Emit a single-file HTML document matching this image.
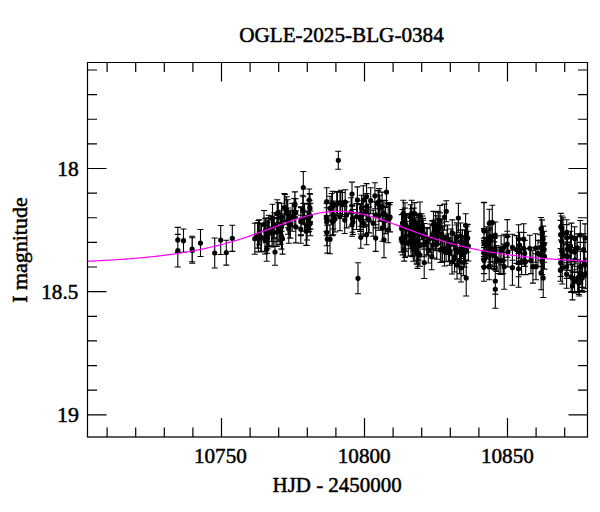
<!DOCTYPE html>
<html><head><meta charset="utf-8"><title>OGLE-2025-BLG-0384</title>
<style>html,body{margin:0;padding:0;background:#fff;overflow:hidden}svg{display:block}text{font-family:"Liberation Serif","DejaVu Serif",serif;fill:#000;stroke:#000;stroke-width:0.5px}</style></head><body>
<svg width="600" height="512" viewBox="0 0 600 512">
<rect width="600" height="512" fill="#fff"/>
<defs><clipPath id="c"><rect x="87.5" y="62.5" width="500.0" height="374.5"/></clipPath></defs>
<g clip-path="url(#c)">
<path d="M177.8 227.4V252.4M174.8 227.4h6.0M174.8 252.4h6.0M177.8 234.4V267.0M174.8 234.4h6.0M174.8 267.0h6.0M183.5 229.0V252.4M180.5 229.0h6.0M180.5 252.4h6.0M192.1 236.3V261.7M189.1 236.3h6.0M189.1 261.7h6.0M192.3 237.7V263.3M189.3 237.7h6.0M189.3 263.3h6.0M200.5 229.5V256.5M197.5 229.5h6.0M197.5 256.5h6.0M214.7 238.0V268.0M211.7 238.0h6.0M211.7 268.0h6.0M220.7 225.5V254.5M217.7 225.5h6.0M217.7 254.5h6.0M226.3 240.3V265.1M223.3 240.3h6.0M223.3 265.1h6.0M232.3 225.2V251.4M229.3 225.2h6.0M229.3 251.4h6.0M254.8 223.2V254.2M251.8 223.2h6.0M251.8 254.2h6.0M260.8 224.0V252.0M257.8 224.0h6.0M257.8 252.0h6.0M261.4 223.4V251.4M258.4 223.4h6.0M258.4 251.4h6.0M264.0 210.5V238.5M261.0 210.5h6.0M261.0 238.5h6.0M265.0 226.0V254.0M262.0 226.0h6.0M262.0 254.0h6.0M266.7 237.2V261.2M263.7 237.2h6.0M263.7 261.2h6.0M267.6 220.8V248.8M264.6 220.8h6.0M264.6 248.8h6.0M269.2 217.7V245.7M266.2 217.7h6.0M266.2 245.7h6.0M272.0 219.0V247.0M269.0 219.0h6.0M269.0 247.0h6.0M272.5 204.3V232.3M269.5 204.3h6.0M269.5 232.3h6.0M273.3 218.5V246.5M270.3 218.5h6.0M270.3 246.5h6.0M275.0 238.7V265.3M272.0 238.7h6.0M272.0 265.3h6.0M277.2 199.7V227.7M274.2 199.7h6.0M274.2 227.7h6.0M278.3 202.5V222.5M275.3 202.5h6.0M275.3 222.5h6.0M278.1 213.7V241.7M275.1 213.7h6.0M275.1 241.7h6.0M280.0 216.8V244.8M277.0 216.8h6.0M277.0 244.8h6.0M281.6 203.2V231.2M278.6 203.2h6.0M278.6 231.2h6.0M282.5 223.1V254.1M279.5 223.1h6.0M279.5 254.1h6.0M284.3 193.5V221.5M281.3 193.5h6.0M281.3 221.5h6.0M285.0 194.5V220.5M282.0 194.5h6.0M282.0 220.5h6.0M286.7 196.8V224.8M283.7 196.8h6.0M283.7 224.8h6.0M287.8 199.7V227.7M284.8 199.7h6.0M284.8 227.7h6.0M290.0 212.0V238.0M287.0 212.0h6.0M287.0 238.0h6.0M290.4 210.2V238.2M287.4 210.2h6.0M287.4 238.2h6.0M292.2 203.2V231.2M289.2 203.2h6.0M289.2 231.2h6.0M294.8 191.9V217.9M291.8 191.9h6.0M291.8 217.9h6.0M295.0 191.7V216.7M292.0 191.7h6.0M292.0 216.7h6.0M294.2 198.5V226.5M291.2 198.5h6.0M291.2 226.5h6.0M295.7 198.8V226.8M292.7 198.8h6.0M292.7 226.8h6.0M300.8 215.2V243.2M297.8 215.2h6.0M297.8 243.2h6.0M300.8 207.7V235.7M297.8 207.7h6.0M297.8 235.7h6.0M301.0 206.7V234.7M298.0 206.7h6.0M298.0 234.7h6.0M302.7 195.3V223.3M299.7 195.3h6.0M299.7 223.3h6.0M303.3 171.5V203.5M300.3 171.5h6.0M300.3 203.5h6.0M303.3 196.8V224.8M300.3 196.8h6.0M300.3 224.8h6.0M304.5 203.2V231.2M301.5 203.2h6.0M301.5 231.2h6.0M306.2 217.2V245.2M303.2 217.2h6.0M303.2 245.2h6.0M306.7 216.1V245.5M303.7 216.1h6.0M303.7 245.5h6.0M307.1 212.0V240.0M304.1 212.0h6.0M304.1 240.0h6.0M308.3 204.3V232.3M305.3 204.3h6.0M305.3 232.3h6.0M309.2 189.0V211.0M306.2 189.0h6.0M306.2 211.0h6.0M309.8 193.5V221.5M306.8 193.5h6.0M306.8 221.5h6.0M310.0 194.3V222.3M307.0 194.3h6.0M307.0 222.3h6.0M309.2 203.5V231.5M306.2 203.5h6.0M306.2 231.5h6.0M326.7 187.7V215.7M323.7 187.7h6.0M323.7 215.7h6.0M326.4 203.2V231.2M323.4 203.2h6.0M323.4 231.2h6.0M326.7 207.7V235.7M323.7 207.7h6.0M323.7 235.7h6.0M326.7 219.2V245.8M323.7 219.2h6.0M323.7 245.8h6.0M327.3 225.1V253.1M324.3 225.1h6.0M324.3 253.1h6.0M330.0 224.7V253.7M327.0 224.7h6.0M327.0 253.7h6.0M330.0 196.3V220.3M327.0 196.3h6.0M327.0 220.3h6.0M331.7 193.5V221.5M328.7 193.5h6.0M328.7 221.5h6.0M332.5 207.7V235.7M329.5 207.7h6.0M329.5 235.7h6.0M333.3 201.0V229.0M330.3 201.0h6.0M330.3 229.0h6.0M333.3 206.8V234.8M330.3 206.8h6.0M330.3 234.8h6.0M332.5 191.3V215.3M329.5 191.3h6.0M329.5 215.3h6.0M336.7 192.2V216.2M333.7 192.2h6.0M333.7 216.2h6.0M338.3 151.3V169.3M335.3 151.3h6.0M335.3 169.3h6.0M340.0 191.5V213.5M337.0 191.5h6.0M337.0 213.5h6.0M340.0 202.7V230.7M337.0 202.7h6.0M337.0 230.7h6.0M337.5 191.5V215.5M334.5 191.5h6.0M334.5 215.5h6.0M342.5 192.5V216.5M339.5 192.5h6.0M339.5 216.5h6.0M335.0 206.0V232.0M332.0 206.0h6.0M332.0 232.0h6.0M352.0 182.1V206.1M349.0 182.1h6.0M349.0 206.1h6.0M352.0 213.3V236.3M349.0 213.3h6.0M349.0 236.3h6.0M346.6 201.9V227.9M343.6 201.9h6.0M343.6 227.9h6.0M340.8 190.2V216.2M337.8 190.2h6.0M337.8 216.2h6.0M357.4 186.9V212.9M354.4 186.9h6.0M354.4 212.9h6.0M361.6 195.2V221.2M358.6 195.2h6.0M358.6 221.2h6.0M360.8 203.5V229.5M357.8 203.5h6.0M357.8 229.5h6.0M360.8 226.3V248.3M357.8 226.3h6.0M357.8 248.3h6.0M366.6 183.6V209.6M363.6 183.6h6.0M363.6 209.6h6.0M366.6 193.6V219.6M363.6 193.6h6.0M363.6 219.6h6.0M366.6 224.8V244.8M363.6 224.8h6.0M363.6 244.8h6.0M370.7 187.7V213.7M367.7 187.7h6.0M367.7 213.7h6.0M369.1 206.9V232.9M366.1 206.9h6.0M366.1 232.9h6.0M374.9 182.8V208.8M371.9 182.8h6.0M371.9 208.8h6.0M375.7 201.9V227.9M372.7 201.9h6.0M372.7 227.9h6.0M375.7 224.8V251.4M372.7 224.8h6.0M372.7 251.4h6.0M379.0 188.6V214.6M376.0 188.6h6.0M376.0 214.6h6.0M379.9 195.2V221.2M376.9 195.2h6.0M376.9 221.2h6.0M383.2 200.2V226.2M380.2 200.2h6.0M380.2 226.2h6.0M386.5 177.5V206.7M383.5 177.5h6.0M383.5 206.7h6.0M388.2 203.5V229.5M385.2 203.5h6.0M385.2 229.5h6.0M382.4 215.2V241.2M379.4 215.2h6.0M379.4 241.2h6.0M388.2 216.8V242.8M385.2 216.8h6.0M385.2 242.8h6.0M384.0 221.8V257.8M381.0 221.8h6.0M381.0 257.8h6.0M373.2 210.2V236.2M370.2 210.2h6.0M370.2 236.2h6.0M363.3 210.2V236.2M360.3 210.2h6.0M360.3 236.2h6.0M356.6 203.5V229.5M353.6 203.5h6.0M353.6 229.5h6.0M358.0 262.8V293.8M355.0 262.8h6.0M355.0 293.8h6.0M446.3 200.8V221.8M443.3 200.8h6.0M443.3 221.8h6.0M444.5 204.1V230.1M441.5 204.1h6.0M441.5 230.1h6.0M458.4 203.2V232.8M455.4 203.2h6.0M455.4 232.8h6.0M442.0 223.0V249.0M439.0 223.0h6.0M439.0 249.0h6.0M447.2 225.0V251.0M444.2 225.0h6.0M444.2 251.0h6.0M452.3 219.9V245.9M449.3 219.9h6.0M449.3 245.9h6.0M456.4 225.0V251.0M453.4 225.0h6.0M453.4 251.0h6.0M460.5 223.0V249.0M457.5 223.0h6.0M457.5 249.0h6.0M466.6 226.1V252.1M463.6 226.1h6.0M463.6 252.1h6.0M455.4 235.3V261.3M452.4 235.3h6.0M452.4 261.3h6.0M460.5 237.3V263.3M457.5 237.3h6.0M457.5 263.3h6.0M465.6 237.3V263.3M462.6 237.3h6.0M462.6 263.3h6.0M459.5 247.6V273.6M456.5 247.6h6.0M456.5 273.6h6.0M463.6 249.6V275.6M460.6 249.6h6.0M460.6 275.6h6.0M454.5 244.0V272.0M451.5 244.0h6.0M451.5 272.0h6.0M457.0 251.0V279.0M454.0 251.0h6.0M454.0 279.0h6.0M461.0 254.0V282.0M458.0 254.0h6.0M458.0 282.0h6.0M452.0 250.0V274.0M449.0 250.0h6.0M449.0 274.0h6.0M466.2 260.0V296.0M463.2 260.0h6.0M463.2 296.0h6.0M446.1 235.3V261.3M443.1 235.3h6.0M443.1 261.3h6.0M442.0 236.3V262.3M439.0 236.3h6.0M439.0 262.3h6.0M438.3 211.2V237.2M435.3 211.2h6.0M435.3 237.2h6.0M424.2 246.5V278.5M421.2 246.5h6.0M421.2 278.5h6.0M403.3 200.3V226.3M400.3 200.3h6.0M400.3 226.3h6.0M411.7 200.3V226.3M408.7 200.3h6.0M408.7 226.3h6.0M420.0 202.0V228.0M417.0 202.0h6.0M417.0 228.0h6.0M405.0 225.3V251.3M402.0 225.3h6.0M402.0 251.3h6.0M433.3 232.0V258.0M430.3 232.0h6.0M430.3 258.0h6.0M416.7 237.0V263.0M413.7 237.0h6.0M413.7 263.0h6.0M418.3 240.3V266.3M415.3 240.3h6.0M415.3 266.3h6.0M431.7 243.7V269.7M428.7 243.7h6.0M428.7 269.7h6.0M405.0 217.5V257.5M402.0 217.5h6.0M402.0 257.5h6.0M416.7 240.8V264.2M413.7 240.8h6.0M413.7 264.2h6.0M420.0 243.7V266.3M417.0 243.7h6.0M417.0 266.3h6.0M408.3 230.3V256.3M405.3 230.3h6.0M405.3 256.3h6.0M413.3 235.3V261.3M410.3 235.3h6.0M410.3 261.3h6.0M405.0 202.8V228.8M402.0 202.8h6.0M402.0 228.8h6.0M411.7 208.7V234.7M408.7 208.7h6.0M408.7 234.7h6.0M418.3 213.7V239.7M415.3 213.7h6.0M415.3 239.7h6.0M423.3 220.3V246.3M420.3 220.3h6.0M420.3 246.3h6.0M426.7 228.7V254.7M423.7 228.7h6.0M423.7 254.7h6.0M428.3 237.0V263.0M425.3 237.0h6.0M425.3 263.0h6.0M403.3 213.7V239.7M400.3 213.7h6.0M400.3 239.7h6.0M413.3 222.0V248.0M410.3 222.0h6.0M410.3 248.0h6.0M484.1 202.2V259.6M481.1 202.2h6.0M481.1 259.6h6.0M492.3 205.2V240.2M489.3 205.2h6.0M489.3 240.2h6.0M495.3 222.0V248.0M492.3 222.0h6.0M492.3 248.0h6.0M484.1 230.2V256.2M481.1 230.2h6.0M481.1 256.2h6.0M489.2 228.1V254.1M486.2 228.1h6.0M486.2 254.1h6.0M484.1 240.4V266.4M481.1 240.4h6.0M481.1 266.4h6.0M490.2 236.3V262.3M487.2 236.3h6.0M487.2 262.3h6.0M495.3 237.3V263.3M492.3 237.3h6.0M492.3 263.3h6.0M484.1 247.6V273.6M481.1 247.6h6.0M481.1 273.6h6.0M489.2 253.7V279.7M486.2 253.7h6.0M486.2 279.7h6.0M496.4 245.5V271.5M493.4 245.5h6.0M493.4 271.5h6.0M495.3 268.1V294.1M492.3 268.1h6.0M492.3 294.1h6.0M495.3 270.3V308.3M492.3 270.3h6.0M492.3 308.3h6.0M483.9 202.8V258.8M480.9 202.8h6.0M480.9 258.8h6.0M483.9 228.6V256.6M480.9 228.6h6.0M480.9 256.6h6.0M483.9 238.2V266.2M480.9 238.2h6.0M480.9 266.2h6.0M483.9 245.7V273.7M480.9 245.7h6.0M480.9 273.7h6.0M483.9 253.3V281.3M480.9 253.3h6.0M480.9 281.3h6.0M489.3 209.3V237.3M486.3 209.3h6.0M486.3 237.3h6.0M499.1 247.6V273.6M496.1 247.6h6.0M496.1 273.6h6.0M503.2 247.6V273.6M500.2 247.6h6.0M500.2 273.6h6.0M504.2 234.3V260.3M501.2 234.3h6.0M501.2 260.3h6.0M504.2 244.1V289.3M501.2 244.1h6.0M501.2 289.3h6.0M507.3 219.6V252.4M504.3 219.6h6.0M504.3 252.4h6.0M507.3 231.2V257.2M504.3 231.2h6.0M504.3 257.2h6.0M512.4 234.3V260.3M509.4 234.3h6.0M509.4 260.3h6.0M512.4 250.2V285.2M509.4 250.2h6.0M509.4 285.2h6.0M518.6 224.7V253.5M515.6 224.7h6.0M515.6 253.5h6.0M519.6 232.2V258.2M516.6 232.2h6.0M516.6 258.2h6.0M518.6 238.4V264.4M515.6 238.4h6.0M515.6 264.4h6.0M518.6 250.4V287.2M515.6 250.4h6.0M515.6 287.2h6.0M521.6 248.6V274.6M518.6 248.6h6.0M518.6 274.6h6.0M523.7 223.7V254.5M520.7 223.7h6.0M520.7 254.5h6.0M524.7 240.4V266.4M521.7 240.4h6.0M521.7 266.4h6.0M525.7 248.6V274.6M522.7 248.6h6.0M522.7 274.6h6.0M529.8 235.3V261.3M526.8 235.3h6.0M526.8 261.3h6.0M530.9 247.6V273.6M527.9 247.6h6.0M527.9 273.6h6.0M532.9 250.3V283.1M529.9 250.3h6.0M529.9 283.1h6.0M536.0 253.7V279.7M533.0 253.7h6.0M533.0 279.7h6.0M538.0 240.4V266.4M535.0 240.4h6.0M535.0 266.4h6.0M541.1 217.5V240.1M538.1 217.5h6.0M538.1 240.1h6.0M542.1 219.9V245.9M539.1 219.9h6.0M539.1 245.9h6.0M543.2 226.1V252.1M540.2 226.1h6.0M540.2 252.1h6.0M544.2 231.2V257.2M541.2 231.2h6.0M541.2 257.2h6.0M544.2 236.3V262.3M541.2 236.3h6.0M541.2 262.3h6.0M542.1 248.6V274.6M539.1 248.6h6.0M539.1 274.6h6.0M541.1 256.1V289.7M538.1 256.1h6.0M538.1 289.7h6.0M543.2 258.5V297.5M540.2 258.5h6.0M540.2 297.5h6.0M566.6 260.2V288.2M563.6 260.2h6.0M563.6 288.2h6.0M572.4 264.1V292.1M569.4 264.1h6.0M569.4 292.1h6.0M572.4 271.9V299.9M569.4 271.9h6.0M569.4 299.9h6.0M579.3 268.0V296.0M576.3 268.0h6.0M576.3 296.0h6.0M582.2 264.1V292.1M579.2 264.1h6.0M579.2 292.1h6.0M571.4 223.1V251.1M568.4 223.1h6.0M568.4 251.1h6.0M577.3 233.9V261.9M574.3 233.9h6.0M574.3 261.9h6.0M561.7 227.0V255.0M558.7 227.0h6.0M558.7 255.0h6.0M561.7 236.8V264.8M558.7 236.8h6.0M558.7 264.8h6.0M560.7 248.5V276.5M557.7 248.5h6.0M557.7 276.5h6.0M567.5 234.8V262.8M564.5 234.8h6.0M564.5 262.8h6.0M281.4 223.3V249.1M278.4 223.3h6.0M278.4 249.1h6.0M268.7 215.3V245.9M265.7 215.3h6.0M265.7 245.9h6.0M288.1 208.0V234.2M285.1 208.0h6.0M285.1 234.2h6.0M266.9 218.1V246.5M263.9 218.1h6.0M263.9 246.5h6.0M295.8 210.9V242.9M292.8 210.9h6.0M292.8 242.9h6.0M265.4 218.4V242.8M262.4 218.4h6.0M262.4 242.8h6.0M258.4 220.5V251.9M255.4 220.5h6.0M255.4 251.9h6.0M281.5 214.1V240.1M278.5 214.1h6.0M278.5 240.1h6.0M257.5 222.5V248.1M254.5 222.5h6.0M254.5 248.1h6.0M271.4 216.3V241.5M268.4 216.3h6.0M268.4 241.5h6.0M267.4 222.5V253.3M264.4 222.5h6.0M264.4 253.3h6.0M281.9 210.3V238.7M278.9 210.3h6.0M278.9 238.7h6.0M276.8 217.6V246.4M273.8 217.6h6.0M273.8 246.4h6.0M259.3 219.7V244.9M256.3 219.7h6.0M256.3 244.9h6.0M288.8 214.5V243.3M285.8 214.5h6.0M285.8 243.3h6.0M280.6 219.0V244.2M277.6 219.0h6.0M277.6 244.2h6.0M274.2 212.7V237.5M271.2 212.7h6.0M271.2 237.5h6.0M310.6 203.2V229.0M307.6 203.2h6.0M307.6 229.0h6.0M309.5 200.4V229.4M306.5 200.4h6.0M306.5 229.4h6.0M310.3 211.0V235.8M307.3 211.0h6.0M307.3 235.8h6.0M353.0 209.5V234.5M350.0 209.5h6.0M350.0 234.5h6.0M385.6 207.4V233.6M382.6 207.4h6.0M382.6 233.6h6.0M363.3 185.7V214.9M360.3 185.7h6.0M360.3 214.9h6.0M366.0 197.5V226.1M363.0 197.5h6.0M363.0 226.1h6.0M345.2 189.7V214.5M342.2 189.7h6.0M342.2 214.5h6.0M389.5 204.6V231.8M386.5 204.6h6.0M386.5 231.8h6.0M385.0 200.5V228.7M382.0 200.5h6.0M382.0 228.7h6.0M360.7 204.6V234.0M357.7 204.6h6.0M357.7 234.0h6.0M351.1 197.7V226.3M348.1 197.7h6.0M348.1 226.3h6.0M382.1 192.1V220.9M379.1 192.1h6.0M379.1 220.9h6.0M344.7 206.5V233.5M341.7 206.5h6.0M341.7 233.5h6.0M378.1 190.6V216.8M375.1 190.6h6.0M375.1 216.8h6.0M352.4 204.9V232.3M349.4 204.9h6.0M349.4 232.3h6.0M360.0 204.8V231.4M357.0 204.8h6.0M357.0 231.4h6.0M390.1 202.5V231.9M387.1 202.5h6.0M387.1 231.9h6.0M378.9 201.0V230.2M375.9 201.0h6.0M375.9 230.2h6.0M363.3 200.7V227.3M360.3 200.7h6.0M360.3 227.3h6.0M368.4 204.1V232.9M365.4 204.1h6.0M365.4 232.9h6.0M411.1 226.1V255.9M408.1 226.1h6.0M408.1 255.9h6.0M406.0 213.7V236.1M403.0 213.7h6.0M403.0 236.1h6.0M404.2 238.3V261.1M401.2 238.3h6.0M401.2 261.1h6.0M410.1 221.5V248.7M407.1 221.5h6.0M407.1 248.7h6.0M405.6 229.2V256.2M402.6 229.2h6.0M402.6 256.2h6.0M410.5 204.7V229.9M407.5 204.7h6.0M407.5 229.9h6.0M412.5 233.7V256.7M409.5 233.7h6.0M409.5 256.7h6.0M414.7 235.0V261.2M411.7 235.0h6.0M411.7 261.2h6.0M414.7 202.6V224.8M411.7 202.6h6.0M411.7 224.8h6.0M404.8 208.1V234.7M401.8 208.1h6.0M401.8 234.7h6.0M401.6 214.6V242.0M398.6 214.6h6.0M398.6 242.0h6.0M401.3 225.7V252.1M398.3 225.7h6.0M398.3 252.1h6.0M413.2 227.5V251.1M410.2 227.5h6.0M410.2 251.1h6.0M409.6 215.3V244.9M406.6 215.3h6.0M406.6 244.9h6.0M413.8 208.1V232.7M410.8 208.1h6.0M410.8 232.7h6.0M402.7 230.3V254.9M399.7 230.3h6.0M399.7 254.9h6.0M413.9 217.8V246.0M410.9 217.8h6.0M410.9 246.0h6.0M414.2 215.0V242.2M411.2 215.0h6.0M411.2 242.2h6.0M410.1 214.8V241.8M407.1 214.8h6.0M407.1 241.8h6.0M413.4 222.4V250.2M410.4 222.4h6.0M410.4 250.2h6.0M414.0 223.6V245.8M411.0 223.6h6.0M411.0 245.8h6.0M410.8 213.9V243.5M407.8 213.9h6.0M407.8 243.5h6.0M406.7 213.6V240.8M403.7 213.6h6.0M403.7 240.8h6.0M402.5 209.5V236.7M399.5 209.5h6.0M399.5 236.7h6.0M437.6 218.2V244.6M434.6 218.2h6.0M434.6 244.6h6.0M421.6 213.8V239.4M418.6 213.8h6.0M418.6 239.4h6.0M418.1 229.9V254.3M415.1 229.9h6.0M415.1 254.3h6.0M418.0 221.4V244.4M415.0 221.4h6.0M415.0 244.4h6.0M419.4 222.9V247.1M416.4 222.9h6.0M416.4 247.1h6.0M424.0 233.4V256.8M421.0 233.4h6.0M421.0 256.8h6.0M427.3 227.5V255.1M424.3 227.5h6.0M424.3 255.1h6.0M418.5 231.5V260.1M415.5 231.5h6.0M415.5 260.1h6.0M433.5 211.4V237.6M430.5 211.4h6.0M430.5 237.6h6.0M435.7 212.0V238.2M432.7 212.0h6.0M432.7 238.2h6.0M435.5 225.3V248.7M432.5 225.3h6.0M432.5 248.7h6.0M436.8 229.3V259.3M433.8 229.3h6.0M433.8 259.3h6.0M440.4 237.3V262.5M437.4 237.3h6.0M437.4 262.5h6.0M432.7 221.1V249.1M429.7 221.1h6.0M429.7 249.1h6.0M434.8 220.0V245.4M431.8 220.0h6.0M431.8 245.4h6.0M416.9 230.6V255.8M413.9 230.6h6.0M413.9 255.8h6.0M430.2 224.0V252.6M427.2 224.0h6.0M427.2 252.6h6.0M439.9 212.9V240.9M436.9 212.9h6.0M436.9 240.9h6.0M441.8 219.8V248.4M438.8 219.8h6.0M438.8 248.4h6.0M439.9 205.4V235.4M436.9 205.4h6.0M436.9 235.4h6.0M419.0 217.2V242.8M416.0 217.2h6.0M416.0 242.8h6.0M435.5 226.8V250.6M432.5 226.8h6.0M432.5 250.6h6.0M436.0 215.8V238.0M433.0 215.8h6.0M433.0 238.0h6.0M424.2 223.5V249.1M421.2 223.5h6.0M421.2 249.1h6.0M417.5 239.0V268.4M414.5 239.0h6.0M414.5 268.4h6.0M422.4 216.0V239.0M419.4 216.0h6.0M419.4 239.0h6.0M416.9 215.5V238.9M413.9 215.5h6.0M413.9 238.9h6.0M438.4 216.0V243.4M435.4 216.0h6.0M435.4 243.4h6.0M422.9 218.4V244.6M419.9 218.4h6.0M419.9 244.6h6.0M432.3 220.6V249.0M429.3 220.6h6.0M429.3 249.0h6.0M465.6 213.8V236.8M462.6 213.8h6.0M462.6 236.8h6.0M468.4 231.2V261.0M465.4 231.2h6.0M465.4 261.0h6.0M447.6 225.0V254.4M444.6 225.0h6.0M444.6 254.4h6.0M443.1 225.9V248.5M440.1 225.9h6.0M440.1 248.5h6.0M448.4 233.7V261.7M445.4 233.7h6.0M445.4 261.7h6.0M464.4 238.3V267.1M461.4 238.3h6.0M461.4 267.1h6.0M460.4 230.2V253.6M457.4 230.2h6.0M457.4 253.6h6.0M462.4 229.9V256.7M459.4 229.9h6.0M459.4 256.7h6.0M450.9 229.0V255.2M447.9 229.0h6.0M447.9 255.2h6.0M444.5 237.6V266.0M441.5 237.6h6.0M441.5 266.0h6.0M449.6 238.0V265.2M446.6 238.0h6.0M446.6 265.2h6.0M467.7 224.4V252.0M464.7 224.4h6.0M464.7 252.0h6.0M464.5 229.8V253.4M461.5 229.8h6.0M461.5 253.4h6.0M456.9 222.9V250.7M453.9 222.9h6.0M453.9 250.7h6.0M442.4 236.3V261.5M439.4 236.3h6.0M439.4 261.5h6.0M461.5 235.9V258.5M458.5 235.9h6.0M458.5 258.5h6.0M457.2 241.0V263.4M454.2 241.0h6.0M454.2 263.4h6.0M454.2 233.3V255.9M451.2 233.3h6.0M451.2 255.9h6.0M490.9 221.1V252.1M487.9 221.1h6.0M487.9 252.1h6.0M485.0 237.5V267.1M482.0 237.5h6.0M482.0 267.1h6.0M490.3 239.7V268.7M487.3 239.7h6.0M487.3 268.7h6.0M494.3 241.9V269.1M491.3 241.9h6.0M491.3 269.1h6.0M490.4 237.9V264.9M487.4 237.9h6.0M487.4 264.9h6.0M489.0 240.4V267.2M486.0 240.4h6.0M486.0 267.2h6.0M494.4 238.4V268.6M491.4 238.4h6.0M491.4 268.6h6.0M488.7 229.7V256.9M485.7 229.7h6.0M485.7 256.9h6.0M494.9 237.0V266.4M491.9 237.0h6.0M491.9 266.4h6.0M492.2 236.1V261.5M489.2 236.1h6.0M489.2 261.5h6.0M486.4 226.7V258.7M483.4 226.7h6.0M483.4 258.7h6.0M487.3 230.4V259.0M484.3 230.4h6.0M484.3 259.0h6.0M544.4 242.9V269.1M541.4 242.9h6.0M541.4 269.1h6.0M541.3 242.1V266.7M538.3 242.1h6.0M538.3 266.7h6.0M540.5 234.7V260.3M537.5 234.7h6.0M537.5 260.3h6.0M518.6 248.9V276.7M515.6 248.9h6.0M515.6 276.7h6.0M535.6 233.8V262.2M532.6 233.8h6.0M532.6 262.2h6.0M507.9 236.7V266.9M504.9 236.7h6.0M504.9 266.9h6.0M500.8 246.8V274.4M497.8 246.8h6.0M497.8 274.4h6.0M501.1 235.7V264.9M498.1 235.7h6.0M498.1 264.9h6.0M516.5 235.6V263.4M513.5 235.6h6.0M513.5 263.4h6.0M523.7 232.5V264.1M520.7 232.5h6.0M520.7 264.1h6.0M561.9 216.0V242.2M558.9 216.0h6.0M558.9 242.2h6.0M566.7 219.7V244.9M563.7 219.7h6.0M563.7 244.9h6.0M566.7 242.1V270.3M563.7 242.1h6.0M563.7 270.3h6.0M566.7 224.6V251.0M563.7 224.6h6.0M563.7 251.0h6.0M563.9 243.7V267.1M560.9 243.7h6.0M560.9 267.1h6.0M560.4 259.1V281.3M557.4 259.1h6.0M557.4 281.3h6.0M560.8 213.4V240.0M557.8 213.4h6.0M557.8 240.0h6.0M560.6 220.4V248.6M557.6 220.4h6.0M557.6 248.6h6.0M563.1 217.8V249.0M560.1 217.8h6.0M560.1 249.0h6.0M567.9 242.5V270.5M564.9 242.5h6.0M564.9 270.5h6.0M566.7 255.2V278.4M563.7 255.2h6.0M563.7 278.4h6.0M562.2 252.2V284.0M559.2 252.2h6.0M559.2 284.0h6.0M580.4 251.3V282.9M577.4 251.3h6.0M577.4 282.9h6.0M580.3 220.5V249.7M577.3 220.5h6.0M577.3 249.7h6.0M581.8 265.1V290.5M578.8 265.1h6.0M578.8 290.5h6.0M571.3 238.4V264.8M568.3 238.4h6.0M568.3 264.8h6.0M585.8 258.2V288.8M582.8 258.2h6.0M582.8 288.8h6.0M576.9 236.5V259.9M573.9 236.5h6.0M573.9 259.9h6.0M583.6 233.8V265.2M580.6 233.8h6.0M580.6 265.2h6.0M574.6 269.7V292.9M571.6 269.7h6.0M571.6 292.9h6.0M578.8 271.7V294.5M575.8 271.7h6.0M575.8 294.5h6.0M574.7 238.0V266.2M571.7 238.0h6.0M571.7 266.2h6.0M577.7 263.7V292.1M574.7 263.7h6.0M574.7 292.1h6.0M582.6 261.6V287.4M579.6 261.6h6.0M579.6 287.4h6.0M570.4 231.2V260.6M567.4 231.2h6.0M567.4 260.6h6.0M574.7 247.6V272.4M571.7 247.6h6.0M571.7 272.4h6.0M575.2 237.8V261.6M572.2 237.8h6.0M572.2 261.6h6.0M571.1 261.2V292.4M568.1 261.2h6.0M568.1 292.4h6.0M574.6 226.8V250.0M571.6 226.8h6.0M571.6 250.0h6.0M585.0 223.9V251.9M582.0 223.9h6.0M582.0 251.9h6.0M584.7 251.5V277.1M581.7 251.5h6.0M581.7 277.1h6.0" stroke="#000" stroke-width="1.1" fill="none"/>
<path d="M175.2 239.9a2.6 2.6 0 1 0 5.2 0a2.6 2.6 0 1 0 -5.2 0M175.2 250.7a2.6 2.6 0 1 0 5.2 0a2.6 2.6 0 1 0 -5.2 0M180.9 240.7a2.6 2.6 0 1 0 5.2 0a2.6 2.6 0 1 0 -5.2 0M189.5 249.0a2.6 2.6 0 1 0 5.2 0a2.6 2.6 0 1 0 -5.2 0M189.7 250.5a2.6 2.6 0 1 0 5.2 0a2.6 2.6 0 1 0 -5.2 0M197.9 243.0a2.6 2.6 0 1 0 5.2 0a2.6 2.6 0 1 0 -5.2 0M212.1 253.0a2.6 2.6 0 1 0 5.2 0a2.6 2.6 0 1 0 -5.2 0M218.1 240.0a2.6 2.6 0 1 0 5.2 0a2.6 2.6 0 1 0 -5.2 0M223.7 252.7a2.6 2.6 0 1 0 5.2 0a2.6 2.6 0 1 0 -5.2 0M229.7 238.3a2.6 2.6 0 1 0 5.2 0a2.6 2.6 0 1 0 -5.2 0M252.2 238.7a2.6 2.6 0 1 0 5.2 0a2.6 2.6 0 1 0 -5.2 0M258.2 238.0a2.6 2.6 0 1 0 5.2 0a2.6 2.6 0 1 0 -5.2 0M258.8 237.4a2.6 2.6 0 1 0 5.2 0a2.6 2.6 0 1 0 -5.2 0M261.4 224.5a2.6 2.6 0 1 0 5.2 0a2.6 2.6 0 1 0 -5.2 0M262.4 240.0a2.6 2.6 0 1 0 5.2 0a2.6 2.6 0 1 0 -5.2 0M264.1 249.2a2.6 2.6 0 1 0 5.2 0a2.6 2.6 0 1 0 -5.2 0M265.0 234.8a2.6 2.6 0 1 0 5.2 0a2.6 2.6 0 1 0 -5.2 0M266.6 231.7a2.6 2.6 0 1 0 5.2 0a2.6 2.6 0 1 0 -5.2 0M269.4 233.0a2.6 2.6 0 1 0 5.2 0a2.6 2.6 0 1 0 -5.2 0M269.9 218.3a2.6 2.6 0 1 0 5.2 0a2.6 2.6 0 1 0 -5.2 0M270.7 232.5a2.6 2.6 0 1 0 5.2 0a2.6 2.6 0 1 0 -5.2 0M272.4 252.0a2.6 2.6 0 1 0 5.2 0a2.6 2.6 0 1 0 -5.2 0M274.6 213.7a2.6 2.6 0 1 0 5.2 0a2.6 2.6 0 1 0 -5.2 0M275.7 212.5a2.6 2.6 0 1 0 5.2 0a2.6 2.6 0 1 0 -5.2 0M275.5 227.7a2.6 2.6 0 1 0 5.2 0a2.6 2.6 0 1 0 -5.2 0M277.4 230.8a2.6 2.6 0 1 0 5.2 0a2.6 2.6 0 1 0 -5.2 0M279.0 217.2a2.6 2.6 0 1 0 5.2 0a2.6 2.6 0 1 0 -5.2 0M279.9 238.6a2.6 2.6 0 1 0 5.2 0a2.6 2.6 0 1 0 -5.2 0M281.7 207.5a2.6 2.6 0 1 0 5.2 0a2.6 2.6 0 1 0 -5.2 0M282.4 207.5a2.6 2.6 0 1 0 5.2 0a2.6 2.6 0 1 0 -5.2 0M284.1 210.8a2.6 2.6 0 1 0 5.2 0a2.6 2.6 0 1 0 -5.2 0M285.2 213.7a2.6 2.6 0 1 0 5.2 0a2.6 2.6 0 1 0 -5.2 0M287.4 225.0a2.6 2.6 0 1 0 5.2 0a2.6 2.6 0 1 0 -5.2 0M287.8 224.2a2.6 2.6 0 1 0 5.2 0a2.6 2.6 0 1 0 -5.2 0M289.6 217.2a2.6 2.6 0 1 0 5.2 0a2.6 2.6 0 1 0 -5.2 0M292.2 204.9a2.6 2.6 0 1 0 5.2 0a2.6 2.6 0 1 0 -5.2 0M292.4 204.2a2.6 2.6 0 1 0 5.2 0a2.6 2.6 0 1 0 -5.2 0M291.6 212.5a2.6 2.6 0 1 0 5.2 0a2.6 2.6 0 1 0 -5.2 0M293.1 212.8a2.6 2.6 0 1 0 5.2 0a2.6 2.6 0 1 0 -5.2 0M298.2 229.2a2.6 2.6 0 1 0 5.2 0a2.6 2.6 0 1 0 -5.2 0M298.2 221.7a2.6 2.6 0 1 0 5.2 0a2.6 2.6 0 1 0 -5.2 0M298.4 220.7a2.6 2.6 0 1 0 5.2 0a2.6 2.6 0 1 0 -5.2 0M300.1 209.3a2.6 2.6 0 1 0 5.2 0a2.6 2.6 0 1 0 -5.2 0M300.7 187.5a2.6 2.6 0 1 0 5.2 0a2.6 2.6 0 1 0 -5.2 0M300.7 210.8a2.6 2.6 0 1 0 5.2 0a2.6 2.6 0 1 0 -5.2 0M301.9 217.2a2.6 2.6 0 1 0 5.2 0a2.6 2.6 0 1 0 -5.2 0M303.6 231.2a2.6 2.6 0 1 0 5.2 0a2.6 2.6 0 1 0 -5.2 0M304.1 230.8a2.6 2.6 0 1 0 5.2 0a2.6 2.6 0 1 0 -5.2 0M304.5 226.0a2.6 2.6 0 1 0 5.2 0a2.6 2.6 0 1 0 -5.2 0M305.7 218.3a2.6 2.6 0 1 0 5.2 0a2.6 2.6 0 1 0 -5.2 0M306.6 200.0a2.6 2.6 0 1 0 5.2 0a2.6 2.6 0 1 0 -5.2 0M307.2 207.5a2.6 2.6 0 1 0 5.2 0a2.6 2.6 0 1 0 -5.2 0M307.4 208.3a2.6 2.6 0 1 0 5.2 0a2.6 2.6 0 1 0 -5.2 0M306.6 217.5a2.6 2.6 0 1 0 5.2 0a2.6 2.6 0 1 0 -5.2 0M324.1 201.7a2.6 2.6 0 1 0 5.2 0a2.6 2.6 0 1 0 -5.2 0M323.8 217.2a2.6 2.6 0 1 0 5.2 0a2.6 2.6 0 1 0 -5.2 0M324.1 221.7a2.6 2.6 0 1 0 5.2 0a2.6 2.6 0 1 0 -5.2 0M324.1 232.5a2.6 2.6 0 1 0 5.2 0a2.6 2.6 0 1 0 -5.2 0M324.7 239.1a2.6 2.6 0 1 0 5.2 0a2.6 2.6 0 1 0 -5.2 0M327.4 239.2a2.6 2.6 0 1 0 5.2 0a2.6 2.6 0 1 0 -5.2 0M327.4 208.3a2.6 2.6 0 1 0 5.2 0a2.6 2.6 0 1 0 -5.2 0M329.1 207.5a2.6 2.6 0 1 0 5.2 0a2.6 2.6 0 1 0 -5.2 0M329.9 221.7a2.6 2.6 0 1 0 5.2 0a2.6 2.6 0 1 0 -5.2 0M330.7 215.0a2.6 2.6 0 1 0 5.2 0a2.6 2.6 0 1 0 -5.2 0M330.7 220.8a2.6 2.6 0 1 0 5.2 0a2.6 2.6 0 1 0 -5.2 0M329.9 203.3a2.6 2.6 0 1 0 5.2 0a2.6 2.6 0 1 0 -5.2 0M334.1 204.2a2.6 2.6 0 1 0 5.2 0a2.6 2.6 0 1 0 -5.2 0M335.7 160.3a2.6 2.6 0 1 0 5.2 0a2.6 2.6 0 1 0 -5.2 0M337.4 202.5a2.6 2.6 0 1 0 5.2 0a2.6 2.6 0 1 0 -5.2 0M337.4 216.7a2.6 2.6 0 1 0 5.2 0a2.6 2.6 0 1 0 -5.2 0M334.9 203.5a2.6 2.6 0 1 0 5.2 0a2.6 2.6 0 1 0 -5.2 0M339.9 204.5a2.6 2.6 0 1 0 5.2 0a2.6 2.6 0 1 0 -5.2 0M332.4 219.0a2.6 2.6 0 1 0 5.2 0a2.6 2.6 0 1 0 -5.2 0M349.4 194.1a2.6 2.6 0 1 0 5.2 0a2.6 2.6 0 1 0 -5.2 0M349.4 224.8a2.6 2.6 0 1 0 5.2 0a2.6 2.6 0 1 0 -5.2 0M344.0 214.9a2.6 2.6 0 1 0 5.2 0a2.6 2.6 0 1 0 -5.2 0M338.2 203.2a2.6 2.6 0 1 0 5.2 0a2.6 2.6 0 1 0 -5.2 0M354.8 199.9a2.6 2.6 0 1 0 5.2 0a2.6 2.6 0 1 0 -5.2 0M359.0 208.2a2.6 2.6 0 1 0 5.2 0a2.6 2.6 0 1 0 -5.2 0M358.2 216.5a2.6 2.6 0 1 0 5.2 0a2.6 2.6 0 1 0 -5.2 0M358.2 237.3a2.6 2.6 0 1 0 5.2 0a2.6 2.6 0 1 0 -5.2 0M364.0 196.6a2.6 2.6 0 1 0 5.2 0a2.6 2.6 0 1 0 -5.2 0M364.0 206.6a2.6 2.6 0 1 0 5.2 0a2.6 2.6 0 1 0 -5.2 0M364.0 234.8a2.6 2.6 0 1 0 5.2 0a2.6 2.6 0 1 0 -5.2 0M368.1 200.7a2.6 2.6 0 1 0 5.2 0a2.6 2.6 0 1 0 -5.2 0M366.5 219.9a2.6 2.6 0 1 0 5.2 0a2.6 2.6 0 1 0 -5.2 0M372.3 195.8a2.6 2.6 0 1 0 5.2 0a2.6 2.6 0 1 0 -5.2 0M373.1 214.9a2.6 2.6 0 1 0 5.2 0a2.6 2.6 0 1 0 -5.2 0M373.1 238.1a2.6 2.6 0 1 0 5.2 0a2.6 2.6 0 1 0 -5.2 0M376.4 201.6a2.6 2.6 0 1 0 5.2 0a2.6 2.6 0 1 0 -5.2 0M377.3 208.2a2.6 2.6 0 1 0 5.2 0a2.6 2.6 0 1 0 -5.2 0M380.6 213.2a2.6 2.6 0 1 0 5.2 0a2.6 2.6 0 1 0 -5.2 0M383.9 192.1a2.6 2.6 0 1 0 5.2 0a2.6 2.6 0 1 0 -5.2 0M385.6 216.5a2.6 2.6 0 1 0 5.2 0a2.6 2.6 0 1 0 -5.2 0M379.8 228.2a2.6 2.6 0 1 0 5.2 0a2.6 2.6 0 1 0 -5.2 0M385.6 229.8a2.6 2.6 0 1 0 5.2 0a2.6 2.6 0 1 0 -5.2 0M381.4 239.8a2.6 2.6 0 1 0 5.2 0a2.6 2.6 0 1 0 -5.2 0M370.6 223.2a2.6 2.6 0 1 0 5.2 0a2.6 2.6 0 1 0 -5.2 0M360.7 223.2a2.6 2.6 0 1 0 5.2 0a2.6 2.6 0 1 0 -5.2 0M354.0 216.5a2.6 2.6 0 1 0 5.2 0a2.6 2.6 0 1 0 -5.2 0M355.4 278.3a2.6 2.6 0 1 0 5.2 0a2.6 2.6 0 1 0 -5.2 0M443.7 211.3a2.6 2.6 0 1 0 5.2 0a2.6 2.6 0 1 0 -5.2 0M441.9 217.1a2.6 2.6 0 1 0 5.2 0a2.6 2.6 0 1 0 -5.2 0M455.8 218.0a2.6 2.6 0 1 0 5.2 0a2.6 2.6 0 1 0 -5.2 0M439.4 236.0a2.6 2.6 0 1 0 5.2 0a2.6 2.6 0 1 0 -5.2 0M444.6 238.0a2.6 2.6 0 1 0 5.2 0a2.6 2.6 0 1 0 -5.2 0M449.7 232.9a2.6 2.6 0 1 0 5.2 0a2.6 2.6 0 1 0 -5.2 0M453.8 238.0a2.6 2.6 0 1 0 5.2 0a2.6 2.6 0 1 0 -5.2 0M457.9 236.0a2.6 2.6 0 1 0 5.2 0a2.6 2.6 0 1 0 -5.2 0M464.0 239.1a2.6 2.6 0 1 0 5.2 0a2.6 2.6 0 1 0 -5.2 0M452.8 248.3a2.6 2.6 0 1 0 5.2 0a2.6 2.6 0 1 0 -5.2 0M457.9 250.3a2.6 2.6 0 1 0 5.2 0a2.6 2.6 0 1 0 -5.2 0M463.0 250.3a2.6 2.6 0 1 0 5.2 0a2.6 2.6 0 1 0 -5.2 0M456.9 260.6a2.6 2.6 0 1 0 5.2 0a2.6 2.6 0 1 0 -5.2 0M461.0 262.6a2.6 2.6 0 1 0 5.2 0a2.6 2.6 0 1 0 -5.2 0M451.9 258.0a2.6 2.6 0 1 0 5.2 0a2.6 2.6 0 1 0 -5.2 0M454.4 265.0a2.6 2.6 0 1 0 5.2 0a2.6 2.6 0 1 0 -5.2 0M458.4 268.0a2.6 2.6 0 1 0 5.2 0a2.6 2.6 0 1 0 -5.2 0M449.4 262.0a2.6 2.6 0 1 0 5.2 0a2.6 2.6 0 1 0 -5.2 0M463.6 278.0a2.6 2.6 0 1 0 5.2 0a2.6 2.6 0 1 0 -5.2 0M443.5 248.3a2.6 2.6 0 1 0 5.2 0a2.6 2.6 0 1 0 -5.2 0M439.4 249.3a2.6 2.6 0 1 0 5.2 0a2.6 2.6 0 1 0 -5.2 0M435.7 224.2a2.6 2.6 0 1 0 5.2 0a2.6 2.6 0 1 0 -5.2 0M421.6 262.5a2.6 2.6 0 1 0 5.2 0a2.6 2.6 0 1 0 -5.2 0M400.7 213.3a2.6 2.6 0 1 0 5.2 0a2.6 2.6 0 1 0 -5.2 0M409.1 213.3a2.6 2.6 0 1 0 5.2 0a2.6 2.6 0 1 0 -5.2 0M417.4 215.0a2.6 2.6 0 1 0 5.2 0a2.6 2.6 0 1 0 -5.2 0M402.4 238.3a2.6 2.6 0 1 0 5.2 0a2.6 2.6 0 1 0 -5.2 0M430.7 245.0a2.6 2.6 0 1 0 5.2 0a2.6 2.6 0 1 0 -5.2 0M414.1 250.0a2.6 2.6 0 1 0 5.2 0a2.6 2.6 0 1 0 -5.2 0M415.7 253.3a2.6 2.6 0 1 0 5.2 0a2.6 2.6 0 1 0 -5.2 0M429.1 256.7a2.6 2.6 0 1 0 5.2 0a2.6 2.6 0 1 0 -5.2 0M402.4 237.5a2.6 2.6 0 1 0 5.2 0a2.6 2.6 0 1 0 -5.2 0M414.1 252.5a2.6 2.6 0 1 0 5.2 0a2.6 2.6 0 1 0 -5.2 0M417.4 255.0a2.6 2.6 0 1 0 5.2 0a2.6 2.6 0 1 0 -5.2 0M405.7 243.3a2.6 2.6 0 1 0 5.2 0a2.6 2.6 0 1 0 -5.2 0M410.7 248.3a2.6 2.6 0 1 0 5.2 0a2.6 2.6 0 1 0 -5.2 0M402.4 215.8a2.6 2.6 0 1 0 5.2 0a2.6 2.6 0 1 0 -5.2 0M409.1 221.7a2.6 2.6 0 1 0 5.2 0a2.6 2.6 0 1 0 -5.2 0M415.7 226.7a2.6 2.6 0 1 0 5.2 0a2.6 2.6 0 1 0 -5.2 0M420.7 233.3a2.6 2.6 0 1 0 5.2 0a2.6 2.6 0 1 0 -5.2 0M424.1 241.7a2.6 2.6 0 1 0 5.2 0a2.6 2.6 0 1 0 -5.2 0M425.7 250.0a2.6 2.6 0 1 0 5.2 0a2.6 2.6 0 1 0 -5.2 0M400.7 226.7a2.6 2.6 0 1 0 5.2 0a2.6 2.6 0 1 0 -5.2 0M410.7 235.0a2.6 2.6 0 1 0 5.2 0a2.6 2.6 0 1 0 -5.2 0M481.5 230.9a2.6 2.6 0 1 0 5.2 0a2.6 2.6 0 1 0 -5.2 0M489.7 222.7a2.6 2.6 0 1 0 5.2 0a2.6 2.6 0 1 0 -5.2 0M492.7 235.0a2.6 2.6 0 1 0 5.2 0a2.6 2.6 0 1 0 -5.2 0M481.5 243.2a2.6 2.6 0 1 0 5.2 0a2.6 2.6 0 1 0 -5.2 0M486.6 241.1a2.6 2.6 0 1 0 5.2 0a2.6 2.6 0 1 0 -5.2 0M481.5 253.4a2.6 2.6 0 1 0 5.2 0a2.6 2.6 0 1 0 -5.2 0M487.6 249.3a2.6 2.6 0 1 0 5.2 0a2.6 2.6 0 1 0 -5.2 0M492.7 250.3a2.6 2.6 0 1 0 5.2 0a2.6 2.6 0 1 0 -5.2 0M481.5 260.6a2.6 2.6 0 1 0 5.2 0a2.6 2.6 0 1 0 -5.2 0M486.6 266.7a2.6 2.6 0 1 0 5.2 0a2.6 2.6 0 1 0 -5.2 0M493.8 258.5a2.6 2.6 0 1 0 5.2 0a2.6 2.6 0 1 0 -5.2 0M492.7 281.1a2.6 2.6 0 1 0 5.2 0a2.6 2.6 0 1 0 -5.2 0M492.7 289.3a2.6 2.6 0 1 0 5.2 0a2.6 2.6 0 1 0 -5.2 0M481.3 230.8a2.6 2.6 0 1 0 5.2 0a2.6 2.6 0 1 0 -5.2 0M481.3 242.6a2.6 2.6 0 1 0 5.2 0a2.6 2.6 0 1 0 -5.2 0M481.3 252.2a2.6 2.6 0 1 0 5.2 0a2.6 2.6 0 1 0 -5.2 0M481.3 259.7a2.6 2.6 0 1 0 5.2 0a2.6 2.6 0 1 0 -5.2 0M481.3 267.3a2.6 2.6 0 1 0 5.2 0a2.6 2.6 0 1 0 -5.2 0M486.7 223.3a2.6 2.6 0 1 0 5.2 0a2.6 2.6 0 1 0 -5.2 0M496.5 260.6a2.6 2.6 0 1 0 5.2 0a2.6 2.6 0 1 0 -5.2 0M500.6 260.6a2.6 2.6 0 1 0 5.2 0a2.6 2.6 0 1 0 -5.2 0M501.6 247.3a2.6 2.6 0 1 0 5.2 0a2.6 2.6 0 1 0 -5.2 0M501.6 266.7a2.6 2.6 0 1 0 5.2 0a2.6 2.6 0 1 0 -5.2 0M504.7 236.0a2.6 2.6 0 1 0 5.2 0a2.6 2.6 0 1 0 -5.2 0M504.7 244.2a2.6 2.6 0 1 0 5.2 0a2.6 2.6 0 1 0 -5.2 0M509.8 247.3a2.6 2.6 0 1 0 5.2 0a2.6 2.6 0 1 0 -5.2 0M509.8 267.7a2.6 2.6 0 1 0 5.2 0a2.6 2.6 0 1 0 -5.2 0M516.0 239.1a2.6 2.6 0 1 0 5.2 0a2.6 2.6 0 1 0 -5.2 0M517.0 245.2a2.6 2.6 0 1 0 5.2 0a2.6 2.6 0 1 0 -5.2 0M516.0 251.4a2.6 2.6 0 1 0 5.2 0a2.6 2.6 0 1 0 -5.2 0M516.0 268.8a2.6 2.6 0 1 0 5.2 0a2.6 2.6 0 1 0 -5.2 0M519.0 261.6a2.6 2.6 0 1 0 5.2 0a2.6 2.6 0 1 0 -5.2 0M521.1 239.1a2.6 2.6 0 1 0 5.2 0a2.6 2.6 0 1 0 -5.2 0M522.1 253.4a2.6 2.6 0 1 0 5.2 0a2.6 2.6 0 1 0 -5.2 0M523.1 261.6a2.6 2.6 0 1 0 5.2 0a2.6 2.6 0 1 0 -5.2 0M527.2 248.3a2.6 2.6 0 1 0 5.2 0a2.6 2.6 0 1 0 -5.2 0M528.3 260.6a2.6 2.6 0 1 0 5.2 0a2.6 2.6 0 1 0 -5.2 0M530.3 266.7a2.6 2.6 0 1 0 5.2 0a2.6 2.6 0 1 0 -5.2 0M533.4 266.7a2.6 2.6 0 1 0 5.2 0a2.6 2.6 0 1 0 -5.2 0M535.4 253.4a2.6 2.6 0 1 0 5.2 0a2.6 2.6 0 1 0 -5.2 0M538.5 228.8a2.6 2.6 0 1 0 5.2 0a2.6 2.6 0 1 0 -5.2 0M539.5 232.9a2.6 2.6 0 1 0 5.2 0a2.6 2.6 0 1 0 -5.2 0M540.6 239.1a2.6 2.6 0 1 0 5.2 0a2.6 2.6 0 1 0 -5.2 0M541.6 244.2a2.6 2.6 0 1 0 5.2 0a2.6 2.6 0 1 0 -5.2 0M541.6 249.3a2.6 2.6 0 1 0 5.2 0a2.6 2.6 0 1 0 -5.2 0M539.5 261.6a2.6 2.6 0 1 0 5.2 0a2.6 2.6 0 1 0 -5.2 0M538.5 272.9a2.6 2.6 0 1 0 5.2 0a2.6 2.6 0 1 0 -5.2 0M540.6 278.0a2.6 2.6 0 1 0 5.2 0a2.6 2.6 0 1 0 -5.2 0M564.0 274.2a2.6 2.6 0 1 0 5.2 0a2.6 2.6 0 1 0 -5.2 0M569.8 278.1a2.6 2.6 0 1 0 5.2 0a2.6 2.6 0 1 0 -5.2 0M569.8 285.9a2.6 2.6 0 1 0 5.2 0a2.6 2.6 0 1 0 -5.2 0M576.7 282.0a2.6 2.6 0 1 0 5.2 0a2.6 2.6 0 1 0 -5.2 0M579.6 278.1a2.6 2.6 0 1 0 5.2 0a2.6 2.6 0 1 0 -5.2 0M568.8 237.1a2.6 2.6 0 1 0 5.2 0a2.6 2.6 0 1 0 -5.2 0M574.7 247.9a2.6 2.6 0 1 0 5.2 0a2.6 2.6 0 1 0 -5.2 0M559.1 241.0a2.6 2.6 0 1 0 5.2 0a2.6 2.6 0 1 0 -5.2 0M559.1 250.8a2.6 2.6 0 1 0 5.2 0a2.6 2.6 0 1 0 -5.2 0M558.1 262.5a2.6 2.6 0 1 0 5.2 0a2.6 2.6 0 1 0 -5.2 0M564.9 248.8a2.6 2.6 0 1 0 5.2 0a2.6 2.6 0 1 0 -5.2 0M278.8 236.2a2.6 2.6 0 1 0 5.2 0a2.6 2.6 0 1 0 -5.2 0M266.1 230.6a2.6 2.6 0 1 0 5.2 0a2.6 2.6 0 1 0 -5.2 0M285.5 221.1a2.6 2.6 0 1 0 5.2 0a2.6 2.6 0 1 0 -5.2 0M264.3 232.3a2.6 2.6 0 1 0 5.2 0a2.6 2.6 0 1 0 -5.2 0M293.2 226.9a2.6 2.6 0 1 0 5.2 0a2.6 2.6 0 1 0 -5.2 0M262.8 230.6a2.6 2.6 0 1 0 5.2 0a2.6 2.6 0 1 0 -5.2 0M255.8 236.2a2.6 2.6 0 1 0 5.2 0a2.6 2.6 0 1 0 -5.2 0M278.9 227.1a2.6 2.6 0 1 0 5.2 0a2.6 2.6 0 1 0 -5.2 0M254.9 235.3a2.6 2.6 0 1 0 5.2 0a2.6 2.6 0 1 0 -5.2 0M268.8 228.9a2.6 2.6 0 1 0 5.2 0a2.6 2.6 0 1 0 -5.2 0M264.8 237.9a2.6 2.6 0 1 0 5.2 0a2.6 2.6 0 1 0 -5.2 0M279.3 224.5a2.6 2.6 0 1 0 5.2 0a2.6 2.6 0 1 0 -5.2 0M274.2 232.0a2.6 2.6 0 1 0 5.2 0a2.6 2.6 0 1 0 -5.2 0M256.7 232.3a2.6 2.6 0 1 0 5.2 0a2.6 2.6 0 1 0 -5.2 0M286.2 228.9a2.6 2.6 0 1 0 5.2 0a2.6 2.6 0 1 0 -5.2 0M278.0 231.6a2.6 2.6 0 1 0 5.2 0a2.6 2.6 0 1 0 -5.2 0M271.6 225.1a2.6 2.6 0 1 0 5.2 0a2.6 2.6 0 1 0 -5.2 0M308.0 216.1a2.6 2.6 0 1 0 5.2 0a2.6 2.6 0 1 0 -5.2 0M306.9 214.9a2.6 2.6 0 1 0 5.2 0a2.6 2.6 0 1 0 -5.2 0M307.7 223.4a2.6 2.6 0 1 0 5.2 0a2.6 2.6 0 1 0 -5.2 0M350.4 222.0a2.6 2.6 0 1 0 5.2 0a2.6 2.6 0 1 0 -5.2 0M383.0 220.5a2.6 2.6 0 1 0 5.2 0a2.6 2.6 0 1 0 -5.2 0M360.7 200.3a2.6 2.6 0 1 0 5.2 0a2.6 2.6 0 1 0 -5.2 0M363.4 211.8a2.6 2.6 0 1 0 5.2 0a2.6 2.6 0 1 0 -5.2 0M342.6 202.1a2.6 2.6 0 1 0 5.2 0a2.6 2.6 0 1 0 -5.2 0M386.9 218.2a2.6 2.6 0 1 0 5.2 0a2.6 2.6 0 1 0 -5.2 0M382.4 214.6a2.6 2.6 0 1 0 5.2 0a2.6 2.6 0 1 0 -5.2 0M358.1 219.3a2.6 2.6 0 1 0 5.2 0a2.6 2.6 0 1 0 -5.2 0M348.5 212.0a2.6 2.6 0 1 0 5.2 0a2.6 2.6 0 1 0 -5.2 0M379.5 206.5a2.6 2.6 0 1 0 5.2 0a2.6 2.6 0 1 0 -5.2 0M342.1 220.0a2.6 2.6 0 1 0 5.2 0a2.6 2.6 0 1 0 -5.2 0M375.5 203.7a2.6 2.6 0 1 0 5.2 0a2.6 2.6 0 1 0 -5.2 0M349.8 218.6a2.6 2.6 0 1 0 5.2 0a2.6 2.6 0 1 0 -5.2 0M357.4 218.1a2.6 2.6 0 1 0 5.2 0a2.6 2.6 0 1 0 -5.2 0M387.5 217.2a2.6 2.6 0 1 0 5.2 0a2.6 2.6 0 1 0 -5.2 0M376.3 215.6a2.6 2.6 0 1 0 5.2 0a2.6 2.6 0 1 0 -5.2 0M360.7 214.0a2.6 2.6 0 1 0 5.2 0a2.6 2.6 0 1 0 -5.2 0M365.8 218.5a2.6 2.6 0 1 0 5.2 0a2.6 2.6 0 1 0 -5.2 0M408.5 241.0a2.6 2.6 0 1 0 5.2 0a2.6 2.6 0 1 0 -5.2 0M403.4 224.9a2.6 2.6 0 1 0 5.2 0a2.6 2.6 0 1 0 -5.2 0M401.6 249.7a2.6 2.6 0 1 0 5.2 0a2.6 2.6 0 1 0 -5.2 0M407.5 235.1a2.6 2.6 0 1 0 5.2 0a2.6 2.6 0 1 0 -5.2 0M403.0 242.7a2.6 2.6 0 1 0 5.2 0a2.6 2.6 0 1 0 -5.2 0M407.9 217.3a2.6 2.6 0 1 0 5.2 0a2.6 2.6 0 1 0 -5.2 0M409.9 245.2a2.6 2.6 0 1 0 5.2 0a2.6 2.6 0 1 0 -5.2 0M412.1 248.1a2.6 2.6 0 1 0 5.2 0a2.6 2.6 0 1 0 -5.2 0M412.1 213.7a2.6 2.6 0 1 0 5.2 0a2.6 2.6 0 1 0 -5.2 0M402.2 221.4a2.6 2.6 0 1 0 5.2 0a2.6 2.6 0 1 0 -5.2 0M399.0 228.3a2.6 2.6 0 1 0 5.2 0a2.6 2.6 0 1 0 -5.2 0M398.7 238.9a2.6 2.6 0 1 0 5.2 0a2.6 2.6 0 1 0 -5.2 0M410.6 239.3a2.6 2.6 0 1 0 5.2 0a2.6 2.6 0 1 0 -5.2 0M407.0 230.1a2.6 2.6 0 1 0 5.2 0a2.6 2.6 0 1 0 -5.2 0M411.2 220.4a2.6 2.6 0 1 0 5.2 0a2.6 2.6 0 1 0 -5.2 0M400.1 242.6a2.6 2.6 0 1 0 5.2 0a2.6 2.6 0 1 0 -5.2 0M411.3 231.9a2.6 2.6 0 1 0 5.2 0a2.6 2.6 0 1 0 -5.2 0M411.6 228.6a2.6 2.6 0 1 0 5.2 0a2.6 2.6 0 1 0 -5.2 0M407.5 228.3a2.6 2.6 0 1 0 5.2 0a2.6 2.6 0 1 0 -5.2 0M410.8 236.3a2.6 2.6 0 1 0 5.2 0a2.6 2.6 0 1 0 -5.2 0M411.4 234.7a2.6 2.6 0 1 0 5.2 0a2.6 2.6 0 1 0 -5.2 0M408.2 228.7a2.6 2.6 0 1 0 5.2 0a2.6 2.6 0 1 0 -5.2 0M404.1 227.2a2.6 2.6 0 1 0 5.2 0a2.6 2.6 0 1 0 -5.2 0M399.9 223.1a2.6 2.6 0 1 0 5.2 0a2.6 2.6 0 1 0 -5.2 0M435.0 231.4a2.6 2.6 0 1 0 5.2 0a2.6 2.6 0 1 0 -5.2 0M419.0 226.6a2.6 2.6 0 1 0 5.2 0a2.6 2.6 0 1 0 -5.2 0M415.5 242.1a2.6 2.6 0 1 0 5.2 0a2.6 2.6 0 1 0 -5.2 0M415.4 232.9a2.6 2.6 0 1 0 5.2 0a2.6 2.6 0 1 0 -5.2 0M416.8 235.0a2.6 2.6 0 1 0 5.2 0a2.6 2.6 0 1 0 -5.2 0M421.4 245.1a2.6 2.6 0 1 0 5.2 0a2.6 2.6 0 1 0 -5.2 0M424.7 241.3a2.6 2.6 0 1 0 5.2 0a2.6 2.6 0 1 0 -5.2 0M415.9 245.8a2.6 2.6 0 1 0 5.2 0a2.6 2.6 0 1 0 -5.2 0M430.9 224.5a2.6 2.6 0 1 0 5.2 0a2.6 2.6 0 1 0 -5.2 0M433.1 225.1a2.6 2.6 0 1 0 5.2 0a2.6 2.6 0 1 0 -5.2 0M432.9 237.0a2.6 2.6 0 1 0 5.2 0a2.6 2.6 0 1 0 -5.2 0M434.2 244.3a2.6 2.6 0 1 0 5.2 0a2.6 2.6 0 1 0 -5.2 0M437.8 249.9a2.6 2.6 0 1 0 5.2 0a2.6 2.6 0 1 0 -5.2 0M430.1 235.1a2.6 2.6 0 1 0 5.2 0a2.6 2.6 0 1 0 -5.2 0M432.2 232.7a2.6 2.6 0 1 0 5.2 0a2.6 2.6 0 1 0 -5.2 0M414.3 243.2a2.6 2.6 0 1 0 5.2 0a2.6 2.6 0 1 0 -5.2 0M427.6 238.3a2.6 2.6 0 1 0 5.2 0a2.6 2.6 0 1 0 -5.2 0M437.3 226.9a2.6 2.6 0 1 0 5.2 0a2.6 2.6 0 1 0 -5.2 0M439.2 234.1a2.6 2.6 0 1 0 5.2 0a2.6 2.6 0 1 0 -5.2 0M437.3 220.4a2.6 2.6 0 1 0 5.2 0a2.6 2.6 0 1 0 -5.2 0M416.4 230.0a2.6 2.6 0 1 0 5.2 0a2.6 2.6 0 1 0 -5.2 0M432.9 238.7a2.6 2.6 0 1 0 5.2 0a2.6 2.6 0 1 0 -5.2 0M433.4 226.9a2.6 2.6 0 1 0 5.2 0a2.6 2.6 0 1 0 -5.2 0M421.6 236.3a2.6 2.6 0 1 0 5.2 0a2.6 2.6 0 1 0 -5.2 0M414.9 253.7a2.6 2.6 0 1 0 5.2 0a2.6 2.6 0 1 0 -5.2 0M419.8 227.5a2.6 2.6 0 1 0 5.2 0a2.6 2.6 0 1 0 -5.2 0M414.3 227.2a2.6 2.6 0 1 0 5.2 0a2.6 2.6 0 1 0 -5.2 0M435.8 229.7a2.6 2.6 0 1 0 5.2 0a2.6 2.6 0 1 0 -5.2 0M420.3 231.5a2.6 2.6 0 1 0 5.2 0a2.6 2.6 0 1 0 -5.2 0M429.7 234.8a2.6 2.6 0 1 0 5.2 0a2.6 2.6 0 1 0 -5.2 0M463.0 225.3a2.6 2.6 0 1 0 5.2 0a2.6 2.6 0 1 0 -5.2 0M465.8 246.1a2.6 2.6 0 1 0 5.2 0a2.6 2.6 0 1 0 -5.2 0M445.0 239.7a2.6 2.6 0 1 0 5.2 0a2.6 2.6 0 1 0 -5.2 0M440.5 237.2a2.6 2.6 0 1 0 5.2 0a2.6 2.6 0 1 0 -5.2 0M445.8 247.7a2.6 2.6 0 1 0 5.2 0a2.6 2.6 0 1 0 -5.2 0M461.8 252.7a2.6 2.6 0 1 0 5.2 0a2.6 2.6 0 1 0 -5.2 0M457.8 241.9a2.6 2.6 0 1 0 5.2 0a2.6 2.6 0 1 0 -5.2 0M459.8 243.3a2.6 2.6 0 1 0 5.2 0a2.6 2.6 0 1 0 -5.2 0M448.3 242.1a2.6 2.6 0 1 0 5.2 0a2.6 2.6 0 1 0 -5.2 0M441.9 251.8a2.6 2.6 0 1 0 5.2 0a2.6 2.6 0 1 0 -5.2 0M447.0 251.6a2.6 2.6 0 1 0 5.2 0a2.6 2.6 0 1 0 -5.2 0M465.1 238.2a2.6 2.6 0 1 0 5.2 0a2.6 2.6 0 1 0 -5.2 0M461.9 241.6a2.6 2.6 0 1 0 5.2 0a2.6 2.6 0 1 0 -5.2 0M454.3 236.8a2.6 2.6 0 1 0 5.2 0a2.6 2.6 0 1 0 -5.2 0M439.8 248.9a2.6 2.6 0 1 0 5.2 0a2.6 2.6 0 1 0 -5.2 0M458.9 247.2a2.6 2.6 0 1 0 5.2 0a2.6 2.6 0 1 0 -5.2 0M454.6 252.2a2.6 2.6 0 1 0 5.2 0a2.6 2.6 0 1 0 -5.2 0M451.6 244.6a2.6 2.6 0 1 0 5.2 0a2.6 2.6 0 1 0 -5.2 0M488.3 236.6a2.6 2.6 0 1 0 5.2 0a2.6 2.6 0 1 0 -5.2 0M482.4 252.3a2.6 2.6 0 1 0 5.2 0a2.6 2.6 0 1 0 -5.2 0M487.7 254.2a2.6 2.6 0 1 0 5.2 0a2.6 2.6 0 1 0 -5.2 0M491.7 255.5a2.6 2.6 0 1 0 5.2 0a2.6 2.6 0 1 0 -5.2 0M487.8 251.4a2.6 2.6 0 1 0 5.2 0a2.6 2.6 0 1 0 -5.2 0M486.4 253.8a2.6 2.6 0 1 0 5.2 0a2.6 2.6 0 1 0 -5.2 0M491.8 253.5a2.6 2.6 0 1 0 5.2 0a2.6 2.6 0 1 0 -5.2 0M486.1 243.3a2.6 2.6 0 1 0 5.2 0a2.6 2.6 0 1 0 -5.2 0M492.3 251.7a2.6 2.6 0 1 0 5.2 0a2.6 2.6 0 1 0 -5.2 0M489.6 248.8a2.6 2.6 0 1 0 5.2 0a2.6 2.6 0 1 0 -5.2 0M483.8 242.7a2.6 2.6 0 1 0 5.2 0a2.6 2.6 0 1 0 -5.2 0M484.7 244.7a2.6 2.6 0 1 0 5.2 0a2.6 2.6 0 1 0 -5.2 0M541.8 256.0a2.6 2.6 0 1 0 5.2 0a2.6 2.6 0 1 0 -5.2 0M538.7 254.4a2.6 2.6 0 1 0 5.2 0a2.6 2.6 0 1 0 -5.2 0M537.9 247.5a2.6 2.6 0 1 0 5.2 0a2.6 2.6 0 1 0 -5.2 0M516.0 262.8a2.6 2.6 0 1 0 5.2 0a2.6 2.6 0 1 0 -5.2 0M533.0 248.0a2.6 2.6 0 1 0 5.2 0a2.6 2.6 0 1 0 -5.2 0M505.3 251.8a2.6 2.6 0 1 0 5.2 0a2.6 2.6 0 1 0 -5.2 0M498.2 260.6a2.6 2.6 0 1 0 5.2 0a2.6 2.6 0 1 0 -5.2 0M498.5 250.3a2.6 2.6 0 1 0 5.2 0a2.6 2.6 0 1 0 -5.2 0M513.9 249.5a2.6 2.6 0 1 0 5.2 0a2.6 2.6 0 1 0 -5.2 0M521.1 248.3a2.6 2.6 0 1 0 5.2 0a2.6 2.6 0 1 0 -5.2 0M559.3 229.1a2.6 2.6 0 1 0 5.2 0a2.6 2.6 0 1 0 -5.2 0M564.1 232.3a2.6 2.6 0 1 0 5.2 0a2.6 2.6 0 1 0 -5.2 0M564.1 256.2a2.6 2.6 0 1 0 5.2 0a2.6 2.6 0 1 0 -5.2 0M564.1 237.8a2.6 2.6 0 1 0 5.2 0a2.6 2.6 0 1 0 -5.2 0M561.3 255.4a2.6 2.6 0 1 0 5.2 0a2.6 2.6 0 1 0 -5.2 0M557.8 270.2a2.6 2.6 0 1 0 5.2 0a2.6 2.6 0 1 0 -5.2 0M558.2 226.7a2.6 2.6 0 1 0 5.2 0a2.6 2.6 0 1 0 -5.2 0M558.0 234.5a2.6 2.6 0 1 0 5.2 0a2.6 2.6 0 1 0 -5.2 0M560.5 233.4a2.6 2.6 0 1 0 5.2 0a2.6 2.6 0 1 0 -5.2 0M565.3 256.5a2.6 2.6 0 1 0 5.2 0a2.6 2.6 0 1 0 -5.2 0M564.1 266.8a2.6 2.6 0 1 0 5.2 0a2.6 2.6 0 1 0 -5.2 0M559.6 268.1a2.6 2.6 0 1 0 5.2 0a2.6 2.6 0 1 0 -5.2 0M577.8 267.1a2.6 2.6 0 1 0 5.2 0a2.6 2.6 0 1 0 -5.2 0M577.7 235.1a2.6 2.6 0 1 0 5.2 0a2.6 2.6 0 1 0 -5.2 0M579.2 277.8a2.6 2.6 0 1 0 5.2 0a2.6 2.6 0 1 0 -5.2 0M568.7 251.6a2.6 2.6 0 1 0 5.2 0a2.6 2.6 0 1 0 -5.2 0M583.2 273.5a2.6 2.6 0 1 0 5.2 0a2.6 2.6 0 1 0 -5.2 0M574.3 248.2a2.6 2.6 0 1 0 5.2 0a2.6 2.6 0 1 0 -5.2 0M581.0 249.5a2.6 2.6 0 1 0 5.2 0a2.6 2.6 0 1 0 -5.2 0M572.0 281.3a2.6 2.6 0 1 0 5.2 0a2.6 2.6 0 1 0 -5.2 0M576.2 283.1a2.6 2.6 0 1 0 5.2 0a2.6 2.6 0 1 0 -5.2 0M572.1 252.1a2.6 2.6 0 1 0 5.2 0a2.6 2.6 0 1 0 -5.2 0M575.1 277.9a2.6 2.6 0 1 0 5.2 0a2.6 2.6 0 1 0 -5.2 0M580.0 274.5a2.6 2.6 0 1 0 5.2 0a2.6 2.6 0 1 0 -5.2 0M567.8 245.9a2.6 2.6 0 1 0 5.2 0a2.6 2.6 0 1 0 -5.2 0M572.1 260.0a2.6 2.6 0 1 0 5.2 0a2.6 2.6 0 1 0 -5.2 0M572.6 249.7a2.6 2.6 0 1 0 5.2 0a2.6 2.6 0 1 0 -5.2 0M568.5 276.8a2.6 2.6 0 1 0 5.2 0a2.6 2.6 0 1 0 -5.2 0M572.0 238.4a2.6 2.6 0 1 0 5.2 0a2.6 2.6 0 1 0 -5.2 0M582.4 237.9a2.6 2.6 0 1 0 5.2 0a2.6 2.6 0 1 0 -5.2 0M582.1 264.3a2.6 2.6 0 1 0 5.2 0a2.6 2.6 0 1 0 -5.2 0" fill="#000"/>
<polyline points="87.5,261.23 89.5,261.14 91.5,261.05 93.5,260.96 95.5,260.86 97.5,260.76 99.5,260.66 101.5,260.56 103.5,260.45 105.5,260.34 107.5,260.23 109.5,260.11 111.5,259.99 113.5,259.87 115.5,259.74 117.5,259.61 119.5,259.48 121.5,259.34 123.5,259.20 125.5,259.05 127.5,258.91 129.5,258.75 131.5,258.59 133.5,258.43 135.5,258.27 137.5,258.10 139.5,257.92 141.5,257.74 143.5,257.55 145.5,257.36 147.5,257.16 149.5,256.96 151.5,256.75 153.5,256.54 155.5,256.32 157.5,256.10 159.5,255.86 161.5,255.62 163.5,255.38 165.5,255.13 167.5,254.87 169.5,254.60 171.5,254.33 173.5,254.05 175.5,253.76 177.5,253.46 179.5,253.15 181.5,252.84 183.5,252.52 185.5,252.19 187.5,251.85 189.5,251.50 191.5,251.14 193.5,250.77 195.5,250.40 197.5,250.01 199.5,249.61 201.5,249.20 203.5,248.79 205.5,248.36 207.5,247.92 209.5,247.47 211.5,247.01 213.5,246.53 215.5,246.05 217.5,245.55 219.5,245.05 221.5,244.53 223.5,244.00 225.5,243.46 227.5,242.90 229.5,242.34 231.5,241.76 233.5,241.18 235.5,240.58 237.5,239.96 239.5,239.34 241.5,238.71 243.5,238.06 245.5,237.41 247.5,236.75 249.5,236.07 251.5,235.39 253.5,234.69 255.5,233.99 257.5,233.28 259.5,232.56 261.5,231.84 263.5,231.11 265.5,230.37 267.5,229.63 269.5,228.89 271.5,228.14 273.5,227.40 275.5,226.65 277.5,225.90 279.5,225.16 281.5,224.42 283.5,223.68 285.5,222.95 287.5,222.23 289.5,221.51 291.5,220.81 293.5,220.12 295.5,219.44 297.5,218.78 299.5,218.14 301.5,217.51 303.5,216.91 305.5,216.33 307.5,215.77 309.5,215.24 311.5,214.74 313.5,214.26 315.5,213.82 317.5,213.41 319.5,213.03 321.5,212.69 323.5,212.38 325.5,212.11 327.5,211.87 329.5,211.68 331.5,211.53 333.5,211.41 335.5,211.34 337.5,211.30 339.5,211.31 341.5,211.36 343.5,211.45 345.5,211.58 347.5,211.74 349.5,211.95 351.5,212.20 353.5,212.48 355.5,212.80 357.5,213.16 359.5,213.55 361.5,213.97 363.5,214.43 365.5,214.91 367.5,215.42 369.5,215.97 371.5,216.53 373.5,217.12 375.5,217.73 377.5,218.36 379.5,219.01 381.5,219.68 383.5,220.36 385.5,221.05 387.5,221.76 389.5,222.48 391.5,223.20 393.5,223.94 395.5,224.67 397.5,225.42 399.5,226.16 401.5,226.91 403.5,227.66 405.5,228.40 407.5,229.15 409.5,229.89 411.5,230.63 413.5,231.36 415.5,232.09 417.5,232.81 419.5,233.53 421.5,234.24 423.5,234.94 425.5,235.63 427.5,236.31 429.5,236.98 431.5,237.64 433.5,238.29 435.5,238.93 437.5,239.56 439.5,240.18 441.5,240.79 443.5,241.38 445.5,241.97 447.5,242.54 449.5,243.10 451.5,243.65 453.5,244.19 455.5,244.71 457.5,245.23 459.5,245.73 461.5,246.22 463.5,246.70 465.5,247.17 467.5,247.63 469.5,248.07 471.5,248.51 473.5,248.93 475.5,249.35 477.5,249.75 479.5,250.14 481.5,250.53 483.5,250.90 485.5,251.27 487.5,251.62 489.5,251.97 491.5,252.30 493.5,252.63 495.5,252.95 497.5,253.26 499.5,253.56 501.5,253.86 503.5,254.15 505.5,254.42 507.5,254.70 509.5,254.96 511.5,255.22 513.5,255.47 515.5,255.71 517.5,255.95 519.5,256.18 521.5,256.40 523.5,256.62 525.5,256.83 527.5,257.03 529.5,257.23 531.5,257.43 533.5,257.62 535.5,257.80 537.5,257.98 539.5,258.16 541.5,258.33 543.5,258.49 545.5,258.65 547.5,258.81 549.5,258.96 551.5,259.11 553.5,259.25 555.5,259.39 557.5,259.52 559.5,259.66 561.5,259.79 563.5,259.91 565.5,260.03 567.5,260.15 569.5,260.27 571.5,260.38 573.5,260.49 575.5,260.59 577.5,260.70 579.5,260.80 581.5,260.90 583.5,260.99 585.5,261.09 587.5,261.18" fill="none" stroke="#f0f" stroke-width="1.2"/>
</g>
<path d="M107.10 437.0v-9.5M107.10 62.5v9.5M135.70 437.0v-9.5M135.70 62.5v9.5M164.30 437.0v-9.5M164.30 62.5v9.5M192.90 437.0v-9.5M192.90 62.5v9.5M221.50 437.0v-19M221.50 62.5v19M250.10 437.0v-9.5M250.10 62.5v9.5M278.70 437.0v-9.5M278.70 62.5v9.5M307.30 437.0v-9.5M307.30 62.5v9.5M335.90 437.0v-9.5M335.90 62.5v9.5M364.50 437.0v-19M364.50 62.5v19M393.10 437.0v-9.5M393.10 62.5v9.5M421.70 437.0v-9.5M421.70 62.5v9.5M450.30 437.0v-9.5M450.30 62.5v9.5M478.90 437.0v-9.5M478.90 62.5v9.5M507.50 437.0v-19M507.50 62.5v19M536.10 437.0v-9.5M536.10 62.5v9.5M564.70 437.0v-9.5M564.70 62.5v9.5M87.5 69.98h9.5M587.5 69.98h-9.5M87.5 94.61h9.5M587.5 94.61h-9.5M87.5 119.24h9.5M587.5 119.24h-9.5M87.5 143.87h9.5M587.5 143.87h-9.5M87.5 168.50h19M587.5 168.50h-19M87.5 193.13h9.5M587.5 193.13h-9.5M87.5 217.76h9.5M587.5 217.76h-9.5M87.5 242.39h9.5M587.5 242.39h-9.5M87.5 267.02h9.5M587.5 267.02h-9.5M87.5 291.65h19M587.5 291.65h-19M87.5 316.28h9.5M587.5 316.28h-9.5M87.5 340.91h9.5M587.5 340.91h-9.5M87.5 365.54h9.5M587.5 365.54h-9.5M87.5 390.17h9.5M587.5 390.17h-9.5M87.5 414.80h19M587.5 414.80h-19" stroke="#000" stroke-width="1.2" fill="none"/>
<path d="M86.9 62.5H588.1M87.5 62.5V437.0M587.5 62.5V437.0" stroke="#000" stroke-width="1.2" fill="none"/>
<path d="M86.9 437.0H588.1" stroke="#000" stroke-width="1.4" fill="none" opacity="0.85"/>
<text x="341.5" y="42" font-size="21" text-anchor="middle" textLength="204.6" lengthAdjust="spacingAndGlyphs">OGLE-2025-BLG-0384</text>
<text x="220.4" y="463" font-size="21" text-anchor="middle" textLength="52.8" lengthAdjust="spacingAndGlyphs">10750</text>
<text x="364.2" y="463" font-size="21" text-anchor="middle" textLength="52.8" lengthAdjust="spacingAndGlyphs">10800</text>
<text x="507.4" y="463" font-size="21" text-anchor="middle" textLength="52.8" lengthAdjust="spacingAndGlyphs">10850</text>
<text x="337.1" y="492" font-size="21" text-anchor="middle" textLength="129" lengthAdjust="spacingAndGlyphs">HJD - 2450000</text>
<text x="78.7" y="175.5" font-size="21" text-anchor="end" textLength="21.5" lengthAdjust="spacingAndGlyphs">18</text>
<text x="78.3" y="298.6" font-size="21" text-anchor="end" textLength="37" lengthAdjust="spacingAndGlyphs">18.5</text>
<text x="79" y="421.8" font-size="21" text-anchor="end" textLength="22" lengthAdjust="spacingAndGlyphs">19</text>
<text transform="translate(27.3 250.1) rotate(-90)" font-size="21" text-anchor="middle" textLength="105.5" lengthAdjust="spacingAndGlyphs">I magnitude</text>
</svg></body></html>
